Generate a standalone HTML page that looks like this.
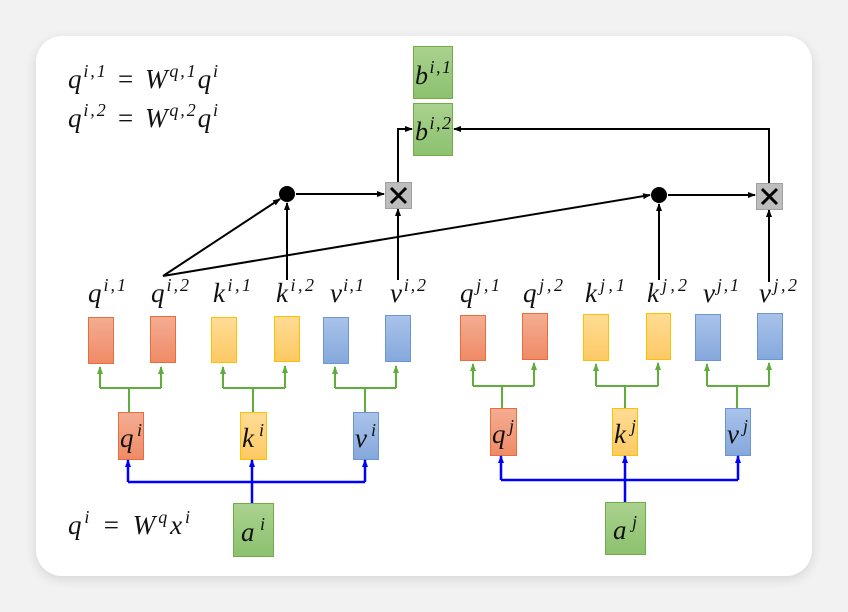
<!DOCTYPE html>
<html><head><style>
html,body{margin:0;padding:0;background:#f2f2f2;}
svg{display:block;}
text{font-family:"Liberation Serif",serif;font-style:italic;fill:#111;}
</style></head><body>
<svg width="848" height="612" viewBox="0 0 848 612" xmlns="http://www.w3.org/2000/svg">
<defs>
<filter id="sh" x="-10%" y="-10%" width="120%" height="120%"><feGaussianBlur stdDeviation="6"/></filter>
<linearGradient id="go" x1="0" y1="0" x2="0" y2="1"><stop offset="0" stop-color="#f4ad92"/><stop offset="1" stop-color="#ef8b66"/></linearGradient>
<linearGradient id="gy" x1="0" y1="0" x2="0" y2="1"><stop offset="0" stop-color="#ffdc95"/><stop offset="1" stop-color="#fdc964"/></linearGradient>
<linearGradient id="gb" x1="0" y1="0" x2="0" y2="1"><stop offset="0" stop-color="#a9c3ea"/><stop offset="1" stop-color="#85a8dc"/></linearGradient>
<linearGradient id="gg" x1="0" y1="0" x2="0" y2="1"><stop offset="0" stop-color="#aad28f"/><stop offset="1" stop-color="#8cc16e"/></linearGradient>
<marker id="ak" markerWidth="8" markerHeight="8" refX="7" refY="4" orient="auto" markerUnits="userSpaceOnUse"><path d="M0,1 L8,4 L0,7z" fill="#000"/></marker>
<marker id="ag" markerWidth="8" markerHeight="8" refX="7" refY="4" orient="auto" markerUnits="userSpaceOnUse"><path d="M0,1 L8,4 L0,7z" fill="#5fae3c"/></marker>
<marker id="ab" markerWidth="8" markerHeight="8" refX="7" refY="4" orient="auto" markerUnits="userSpaceOnUse"><path d="M0,1 L8,4 L0,7z" fill="#0000ff"/></marker>
</defs>
<rect x="36" y="40" width="776" height="539" rx="26" fill="#000" opacity="0.12" filter="url(#sh)"/>
<rect x="36" y="36" width="776" height="540" rx="26" fill="#fff"/>

<!-- formulas -->
<text x="68" y="88" font-size="27" textLength="150" lengthAdjust="spacing">q<tspan dy="-11" font-size="18">i,1</tspan><tspan dy="11"> = W</tspan><tspan dy="-11" font-size="18">q,1</tspan><tspan dy="11">q</tspan><tspan dy="-11" font-size="18">i</tspan></text>
<text x="68" y="127" font-size="27" textLength="150" lengthAdjust="spacing">q<tspan dy="-11" font-size="18">i,2</tspan><tspan dy="11"> = W</tspan><tspan dy="-11" font-size="18">q,2</tspan><tspan dy="11">q</tspan><tspan dy="-11" font-size="18">i</tspan></text>
<text x="68" y="534" font-size="27" textLength="122" lengthAdjust="spacing">q<tspan dy="-11" font-size="18">i</tspan><tspan dy="11"> = W</tspan><tspan dy="-11" font-size="18">q</tspan><tspan dy="11">x</tspan><tspan dy="-11" font-size="18">i</tspan></text>

<!-- b boxes -->
<rect x="413.5" y="46.5" width="39" height="52" fill="url(#gg)" stroke="#70ad47"/>
<rect x="413.5" y="103.5" width="39" height="52" fill="url(#gg)" stroke="#70ad47"/>
<text x="415" y="84" font-size="26" textLength="36" lengthAdjust="spacing">b<tspan dy="-11" font-size="18">i,1</tspan></text>
<text x="415" y="140" font-size="26" textLength="36" lengthAdjust="spacing">b<tspan dy="-11" font-size="18">i,2</tspan></text>

<!-- black connectors -->
<g stroke="#000" stroke-width="2" fill="none">
<path d="M398,182 V129 H412" marker-end="url(#ak)"/>
<path d="M769,183 V129 H454" marker-end="url(#ak)"/>
<path d="M296,194 H384" marker-end="url(#ak)"/>
<path d="M668,195 H755" marker-end="url(#ak)"/>
<path d="M163,276 L280,199" marker-end="url(#ak)"/>
<path d="M163,276 L650,195" marker-end="url(#ak)"/>
<path d="M287,280 V203" marker-end="url(#ak)"/>
<path d="M398,280 V209" marker-end="url(#ak)"/>
<path d="M659,280 V204" marker-end="url(#ak)"/>
<path d="M769,282 V210" marker-end="url(#ak)"/>
</g>
<circle cx="287" cy="194" r="8" fill="#000"/>
<circle cx="659" cy="195" r="8" fill="#000"/>
<g>
<rect x="385.5" y="182.5" width="26" height="26" fill="#bdbdbd" stroke="#a0a0a0"/>
<path d="M391,188 L406,203 M406,188 L391,203" stroke="#000" stroke-width="3"/>
<rect x="756.5" y="183.5" width="26" height="26" fill="#bdbdbd" stroke="#a0a0a0"/>
<path d="M762,189 L777,204 M777,189 L762,204" stroke="#000" stroke-width="3"/>
</g>

<!-- top labels -->
<g font-size="27">
<text x="88" y="302" textLength="38" lengthAdjust="spacing">q<tspan dy="-11" font-size="18">i,1</tspan></text>
<text x="151" y="302" textLength="38" lengthAdjust="spacing">q<tspan dy="-11" font-size="18">i,2</tspan></text>
<text x="213" y="302" textLength="38" lengthAdjust="spacing">k<tspan dy="-11" font-size="18">i,1</tspan></text>
<text x="276" y="302" textLength="38" lengthAdjust="spacing">k<tspan dy="-11" font-size="18">i,2</tspan></text>
<text x="330" y="302" textLength="34" lengthAdjust="spacing">v<tspan dy="-11" font-size="18">i,1</tspan></text>
<text x="390" y="302" textLength="36" lengthAdjust="spacing">v<tspan dy="-11" font-size="18">i,2</tspan></text>
<text x="460" y="302" textLength="40" lengthAdjust="spacing">q<tspan dy="-11" font-size="18">j,1</tspan></text>
<text x="523" y="302" textLength="40" lengthAdjust="spacing">q<tspan dy="-11" font-size="18">j,2</tspan></text>
<text x="585" y="302" textLength="40" lengthAdjust="spacing">k<tspan dy="-11" font-size="18">j,1</tspan></text>
<text x="647" y="302" textLength="40" lengthAdjust="spacing">k<tspan dy="-11" font-size="18">j,2</tspan></text>
<text x="703" y="302" textLength="36" lengthAdjust="spacing">v<tspan dy="-11" font-size="18">j,1</tspan></text>
<text x="759" y="302" textLength="38" lengthAdjust="spacing">v<tspan dy="-11" font-size="18">j,2</tspan></text>
</g>

<!-- small boxes -->
<g>
<rect x="88.5" y="317.5" width="25" height="46" fill="url(#go)" stroke="#e86d3c"/>
<rect x="150.5" y="316.5" width="25" height="46" fill="url(#go)" stroke="#e86d3c"/>
<rect x="211.5" y="317.5" width="25" height="45" fill="url(#gy)" stroke="#ffc000"/>
<rect x="274.5" y="316.5" width="25" height="45" fill="url(#gy)" stroke="#ffc000"/>
<rect x="323.5" y="317.5" width="25" height="46" fill="url(#gb)" stroke="#6b96d6"/>
<rect x="385.5" y="315.5" width="25" height="46" fill="url(#gb)" stroke="#6b96d6"/>
<rect x="460.5" y="315.5" width="25" height="45" fill="url(#go)" stroke="#e86d3c"/>
<rect x="522.5" y="313.5" width="25" height="46" fill="url(#go)" stroke="#e86d3c"/>
<rect x="583.5" y="314.5" width="25" height="46" fill="url(#gy)" stroke="#ffc000"/>
<rect x="646.5" y="313.5" width="24" height="46" fill="url(#gy)" stroke="#ffc000"/>
<rect x="695.5" y="314.5" width="25" height="46" fill="url(#gb)" stroke="#6b96d6"/>
<rect x="757.5" y="313.5" width="25" height="46" fill="url(#gb)" stroke="#6b96d6"/>
</g>

<!-- green connectors -->
<g stroke="#5fae3c" stroke-width="2" fill="none">
<path d="M129,412 V388 M100,388 H161"/><path d="M100,388 V367" marker-end="url(#ag)"/><path d="M161,388 V367" marker-end="url(#ag)"/>
<path d="M253,412 V388 M223,388 H285"/><path d="M223,388 V367" marker-end="url(#ag)"/><path d="M285,388 V366" marker-end="url(#ag)"/>
<path d="M365,412 V388 M335,388 H396"/><path d="M335,388 V367" marker-end="url(#ag)"/><path d="M396,388 V366" marker-end="url(#ag)"/>
<path d="M502,408 V386 M473,386 H534"/><path d="M473,386 V364" marker-end="url(#ag)"/><path d="M534,386 V363" marker-end="url(#ag)"/>
<path d="M625,408 V386 M596,386 H658"/><path d="M596,386 V364" marker-end="url(#ag)"/><path d="M658,386 V363" marker-end="url(#ag)"/>
<path d="M737,408 V386 M707,386 H769"/><path d="M707,386 V364" marker-end="url(#ag)"/><path d="M769,386 V363" marker-end="url(#ag)"/>
</g>

<!-- middle boxes -->
<rect x="118.5" y="412.5" width="25" height="47" fill="url(#go)" stroke="#e86d3c"/>
<rect x="240.5" y="412.5" width="26" height="47" fill="url(#gy)" stroke="#ffc000"/>
<rect x="353.5" y="412.5" width="25" height="47" fill="url(#gb)" stroke="#6b96d6"/>
<rect x="490.5" y="408.5" width="26" height="47" fill="url(#go)" stroke="#e86d3c"/>
<rect x="612.5" y="408.5" width="25" height="47" fill="url(#gy)" stroke="#ffc000"/>
<rect x="725.5" y="408.5" width="25" height="47" fill="url(#gb)" stroke="#6b96d6"/>
<g font-size="27">
<text x="120" y="447" textLength="22" lengthAdjust="spacing">q<tspan dy="-11" font-size="18">i</tspan></text>
<text x="242" y="447" textLength="22" lengthAdjust="spacing">k<tspan dy="-11" font-size="18">i</tspan></text>
<text x="355" y="447" textLength="21" lengthAdjust="spacing">v<tspan dy="-11" font-size="18">i</tspan></text>
<text x="492" y="443" textLength="22" lengthAdjust="spacing">q<tspan dy="-11" font-size="18">j</tspan></text>
<text x="614" y="443" textLength="22" lengthAdjust="spacing">k<tspan dy="-11" font-size="18">j</tspan></text>
<text x="727" y="443" textLength="21" lengthAdjust="spacing">v<tspan dy="-11" font-size="18">j</tspan></text>
</g>

<!-- blue connectors -->
<g stroke="#0000ff" stroke-width="2.5" fill="none">
<path d="M128,482 H365 M252,503 V482"/>
<path d="M128,482 V460" marker-end="url(#ab)"/><path d="M252,482 V460" marker-end="url(#ab)"/><path d="M365,482 V460" marker-end="url(#ab)"/>
<path d="M501,480 H738 M625,502 V480"/>
<path d="M501,480 V456" marker-end="url(#ab)"/><path d="M625,480 V456" marker-end="url(#ab)"/><path d="M738,480 V456" marker-end="url(#ab)"/>
</g>

<!-- a boxes -->
<rect x="233.5" y="503.5" width="40" height="53" fill="url(#gg)" stroke="#70ad47"/>
<rect x="605.5" y="502.5" width="40" height="52" fill="url(#gg)" stroke="#70ad47"/>
<text x="241" y="541" font-size="27" textLength="24" lengthAdjust="spacing">a<tspan dy="-11" font-size="18">i</tspan></text>
<text x="613" y="539" font-size="27" textLength="24" lengthAdjust="spacing">a<tspan dy="-11" font-size="18">j</tspan></text>
</svg>
</body></html>
